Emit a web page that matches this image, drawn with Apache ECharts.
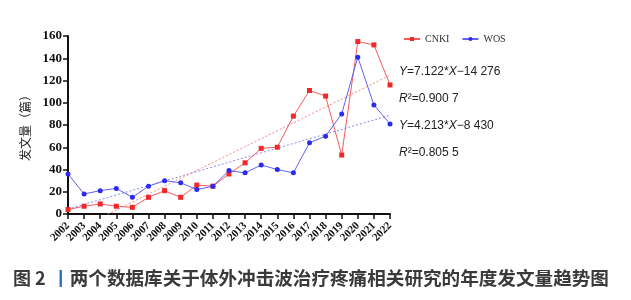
<!DOCTYPE html>
<html>
<head>
<meta charset="utf-8">
<script src="https://cdn.jsdelivr.net/npm/echarts@6/dist/echarts.min.js"></script>
<style>
  html, body { margin: 0; padding: 0; background: #fff; }
  #chart { width: 631px; height: 300px; }
</style>
</head>
<body>
<div id="chart"></div>
<script>
// 연도 및 데이터
const years = [2002, 2003, 2004, 2005, 2006, 2007, 2008, 2009, 2010, 2011, 2012,
  2013, 2014, 2015, 2016, 2017, 2018, 2019, 2020, 2021, 2022];
const cnki = [4, 7, 9, 7, 6, 15, 21, 15, 26, 25, 36, 46, 59, 60, 88, 111, 106, 53, 155, 152, 116];
const wos = [36, 18, 21, 23, 15, 25, 30, 28, 22, 25, 39, 37, 44, 40, 37, 64, 70, 90, 141, 98, 81];
// 회귀식 (그림에 표기된 계수)
const cnkiFit = { slope: 7.122, intercept: -14276 };
const wosFit = { slope: 4.213, intercept: -8430 };
const fitLabels = ['{i|Y}=7.122*{i|X}\u221214 276', '{i|R}\u00b2=0.900 7',
  '{i|Y}=4.213*{i|X}\u22128 430', '{i|R}\u00b2=0.805 5'];
const caption = '两个数据库关于体外冲击波治疗疼痛相关研究的年度发文量趋势图';

const seriesPoints = (vals) => years.map((y, i) => [y, vals[i]]);
const fitPoints = (f) => [years[0], years[years.length - 1]].map(y => [y, f.slope * y + f.intercept]);

document.addEventListener('DOMContentLoaded', function() {
  const myChart = echarts.init(document.getElementById('chart'));
  const serif = '"Liberation Serif", "Times New Roman", serif';
  const option = {
    animation: false,
    grid: { left: 68, right: 241, top: 36, bottom: 86 },
    legend: {
      data: ['CNKI', 'WOS'],
      left: 398,
      top: 29,
      itemWidth: 16,
      itemHeight: 5,
      itemGap: 12,
      textStyle: { fontFamily: serif, fontSize: 10, color: '#333' }
    },
    xAxis: {
      type: 'value',
      min: 2002,
      max: 2022,
      interval: 1,
      splitLine: { show: false },
      axisLine: { lineStyle: { color: '#111', width: 2 } },
      axisTick: { show: true, length: 5, lineStyle: { color: '#111', width: 1.5 } },
      axisLabel: {
        rotate: 45,
        margin: 10,
        fontFamily: serif,
        fontWeight: 'bold',
        fontSize: 11,
        color: '#111',
        formatter: v => String(v)
      }
    },
    yAxis: {
      type: 'value',
      min: 0,
      max: 160,
      interval: 20,
      name: '发文量（篇）',
      nameLocation: 'middle',
      nameRotate: 90,
      nameGap: 36,
      nameTextStyle: { fontFamily: '"Noto Sans CJK SC"', fontSize: 12, color: '#222' },
      splitLine: { show: false },
      axisLine: { show: true, lineStyle: { color: '#111', width: 2 } },
      axisTick: { show: true, length: 5, lineStyle: { color: '#111', width: 1.5 } },
      axisLabel: { fontFamily: serif, fontWeight: 'bold', fontSize: 13, color: '#111', margin: 6 }
    },
    series: [
      {
        name: 'CNKI',
        type: 'line',
        data: seriesPoints(cnki),
        symbol: 'rect',
        symbolSize: 5,
        itemStyle: { color: '#f02828' },
        lineStyle: { color: '#f55a5a', width: 1 },
        z: 3
      },
      {
        name: 'WOS',
        type: 'line',
        data: seriesPoints(wos),
        symbol: 'circle',
        symbolSize: 5,
        itemStyle: { color: '#2a2af0' },
        lineStyle: { color: '#6060f5', width: 1 },
        z: 3
      },
      {
        name: 'CNKI fit',
        type: 'line',
        data: fitPoints(cnkiFit),
        symbol: 'none',
        clip: true,
        lineStyle: { color: '#f08a8a', width: 1, type: [2, 2] },
        z: 2
      },
      {
        name: 'WOS fit',
        type: 'line',
        data: fitPoints(wosFit),
        symbol: 'none',
        clip: true,
        lineStyle: { color: '#8a8af0', width: 1, type: [2, 2] },
        z: 2
      }
    ],
    graphic: [
      ...fitLabels.map((t, i) => ({
        type: 'text',
        left: 399,
        top: [66, 93, 120, 147][i],
        style: {
          text: t,
          fontFamily: '"Liberation Sans", sans-serif',
          fontSize: 12,
          fill: '#222',
          rich: {
            i: { fontStyle: 'italic', fontFamily: '"Liberation Sans", sans-serif', fontSize: 12, fill: '#222' }
          }
        }
      })),
      {
        type: 'text',
        left: 13,
        top: 269,
        style: {
          text: '{b|图 2}{bar|丨}{t|' + caption + '}',
          rich: {
            b: { fontFamily: '"Noto Sans CJK SC"', fontWeight: 'bold', fontSize: 18, fill: '#3a3a3a' },
            bar: { fontFamily: '"Noto Sans CJK SC"', fontWeight: 'bold', fontSize: 18, fill: '#2f6db5', padding: [0, 0, 0, 6] },
            t: { fontFamily: '"Noto Sans CJK SC"', fontWeight: 'bold', fontSize: 18.6, fill: '#3a3a3a' }
          }
        }
      }
    ]
  };
  myChart.setOption(option);
});
</script>
</body>
</html>
